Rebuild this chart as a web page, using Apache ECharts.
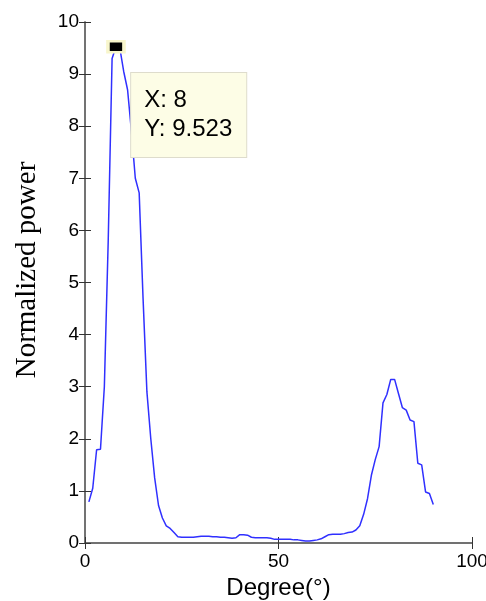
<!DOCTYPE html>
<html>
<head>
    <meta charset="UTF-8">
    <title>Normalized power vs degree</title>
    <script src="https://cdn.jsdelivr.net/npm/echarts@6/dist/echarts.min.js"></script>
    <style>
        html, body { margin: 0; padding: 0; background: #fff; overflow: hidden; }
        #main { width: 486px; height: 601px; }
    </style>
</head>
<body>
    <div id="main"></div>
    <script type="text/javascript">
        // 角度 (度)
        var degrees = [1, 2, 3, 4, 5, 6, 7, 8, 9, 10,
            11, 12, 13, 14, 15, 16, 17, 18, 19, 20,
            21, 22, 23, 24, 25, 26, 27, 28, 29, 30,
            31, 32, 33, 34, 35, 36, 37, 38, 39, 40,
            41, 42, 43, 44, 45, 46, 47, 48, 49, 50,
            51, 52, 53, 54, 55, 56, 57, 58, 59, 60,
            61, 62, 63, 64, 65, 66, 67, 68, 69, 70,
            71, 72, 73, 74, 75, 76, 77, 78, 79, 80,
            81, 82, 83, 84, 85, 86, 87, 88, 89, 90];
        // normalized power
        var power = [0.79, 1.05, 1.79, 1.80, 3.0, 5.8, 9.3, 9.523, 9.50, 9.05,
            8.70, 7.90, 7.00, 6.72, 4.70, 2.90, 2.00, 1.25, 0.72, 0.48,
            0.33, 0.28, 0.20, 0.12, 0.11, 0.11, 0.11, 0.11, 0.12, 0.13,
            0.13, 0.13, 0.12, 0.12, 0.11, 0.11, 0.10, 0.09, 0.10, 0.16,
            0.16, 0.15, 0.11, 0.10, 0.10, 0.10, 0.10, 0.09, 0.07, 0.07,
            0.07, 0.07, 0.07, 0.06, 0.06, 0.05, 0.04, 0.04, 0.05, 0.06,
            0.08, 0.12, 0.16, 0.17, 0.17, 0.17, 0.18, 0.20, 0.21, 0.25,
            0.33, 0.55, 0.85, 1.30, 1.60, 1.85, 2.69, 2.85, 3.14, 3.14,
            2.87, 2.60, 2.55, 2.36, 2.33, 1.53, 1.50, 0.98, 0.95, 0.74];
        var xTicks = [0, 50, 100];
        var yTicks = [0, 1, 2, 3, 4, 5, 6, 7, 8, 9, 10];
        var peakX = 8, peakY = 9.523;

        var sans = 'Liberation Sans, Arial, sans-serif';
        var axisColor = '#6a6a6a';

        var pts = [];
        for (var i = 0; i < degrees.length; i++) {
            pts.push([degrees[i], power[i]]);
        }

        function xAx(pos, showLabel) {
            return {
                type: 'value', position: pos,
                min: xTicks[0], max: xTicks[xTicks.length - 1], interval: xTicks[1] - xTicks[0],
                axisLine: { show: true, lineStyle: { color: axisColor, width: 1.5 } },
                axisTick: { show: true, inside: true, length: 6, lineStyle: { color: '#333' } },
                axisLabel: { show: showLabel, color: '#000', fontSize: 19, fontFamily: sans, margin: 9 },
                splitLine: { show: false }
            };
        }
        function yAx(pos, showLabel) {
            return {
                type: 'value', position: pos,
                min: yTicks[0], max: yTicks[yTicks.length - 1], interval: 1,
                axisLine: { show: true, lineStyle: { color: axisColor, width: 1.5 } },
                axisTick: { show: true, inside: true, length: 6, lineStyle: { color: '#333' } },
                axisLabel: { show: showLabel, color: '#000', fontSize: 19, fontFamily: sans, margin: 6 },
                splitLine: { show: false }
            };
        }

        var xMain = xAx('bottom', true);
        xMain.name = 'Degree(°)';
        xMain.nameLocation = 'middle';
        xMain.nameGap = 33;
        xMain.nameTextStyle = { color: '#000', fontSize: 24, fontFamily: sans };

        var myChart = echarts.init(document.getElementById('main'));
        var option = {
            animation: false,
            grid: { left: 85, right: 14, top: 22, bottom: 58, outerBoundsMode: 'none', containLabel: false },
            xAxis: [xMain, xAx('top', false)],
            yAxis: [yAx('left', true), yAx('right', false)],
            graphic: [{
                type: 'text',
                x: 27, y: 270,
                rotation: Math.PI / 2,
                style: {
                    text: 'Normalized power',
                    fill: '#000',
                    font: '29px "Liberation Serif", "Times New Roman", serif',
                    textAlign: 'center',
                    textVerticalAlign: 'middle'
                }
            }],
            series: [{
                type: 'line',
                data: pts,
                showSymbol: false,
                lineStyle: { color: '#3030ff', width: 1.5 },
                markPoint: {
                    symbol: 'rect',
                    symbolSize: [16, 11],
                    itemStyle: { color: '#000', borderColor: '#f8f6cc', borderWidth: 3 },
                    label: {
                        show: true,
                        position: [25, 33],
                        align: 'left',
                        verticalAlign: 'top',
                        formatter: 'X: ' + peakX + '\nY: ' + peakY,
                        color: '#000',
                        fontSize: 24,
                        lineHeight: 29,
                        fontFamily: sans,
                        backgroundColor: '#fdfde6',
                        borderColor: '#dedccc',
                        borderWidth: 1,
                        padding: [13, 14, 13, 13]
                    },
                    data: [{ coord: [peakX, peakY] }]
                }
            }]
        };
        myChart.setOption(option);
    </script>
</body>
</html>
